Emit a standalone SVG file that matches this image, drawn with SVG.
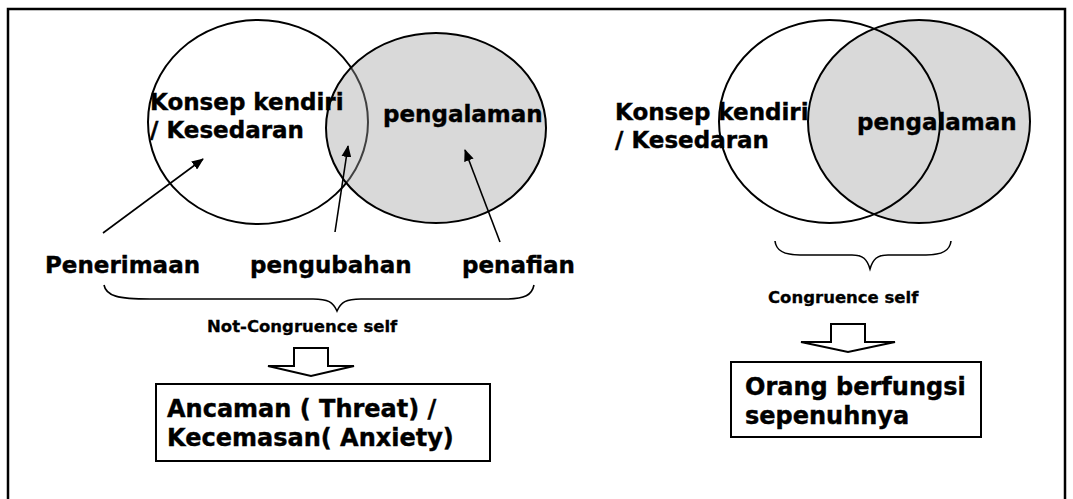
<svg xmlns="http://www.w3.org/2000/svg" width="1073" height="499" viewBox="0 0 1073 499">
<style>
.t{font-family:"DejaVu Sans","Liberation Sans",sans-serif;font-weight:bold;font-size:23px;fill:#000;stroke:#000;stroke-width:0.4}
.s{font-size:16.5px;stroke-width:0.3}
.b{font-size:24px}
.c{stroke:#000;stroke-width:2}
.ln{stroke:#000;stroke-width:1.6;fill:none}
.br{stroke:#000;stroke-width:1.6;fill:none}
.blk{fill:#fff;stroke:#000;stroke-width:2}
</style>
<defs>
<marker id="ah" viewBox="0 0 12 10" refX="11" refY="5" markerWidth="12" markerHeight="10" markerUnits="userSpaceOnUse" orient="auto">
<path d="M0,0 L12,5 L0,10 Z" fill="#000"/>
</marker>
</defs>
<rect x="8" y="9" width="1057" height="500" fill="#fff" stroke="#000" stroke-width="2.5"/>
<g id="venn-left">
<ellipse cx="258" cy="122" rx="110" ry="102" fill="#fff" class="c"/>
<ellipse cx="436" cy="128" rx="110" ry="95" fill="#a0a0a0" fill-opacity="0.4" class="c"/>
</g>
<g id="venn-right">
<ellipse cx="919" cy="121.5" rx="111" ry="101.5" fill="#d9d9d9" class="c"/>
<ellipse cx="829.5" cy="121.5" rx="110.5" ry="101.5" fill="none" class="c"/>
</g>
<g id="labels-left">
<text class="t" x="150" y="110">Konsep kendiri</text>
<text class="t" x="150" y="138">/ Kesedaran</text>
<text class="t" x="383" y="122">pengalaman</text>
</g>
<g id="labels-right">
<text class="t" x="615" y="120">Konsep kendiri</text>
<text class="t" x="615" y="148">/ Kesedaran</text>
<text class="t" x="857" y="130">pengalaman</text>
</g>
<g id="node-penerimaan"><text class="t" x="45" y="273">Penerimaan</text></g>
<g id="node-pengubahan"><text class="t" x="250" y="273">pengubahan</text></g>
<g id="node-penafian"><text class="t" x="462" y="273">penafian</text></g>
<g id="node-notcongruence"><text class="t s" x="207" y="332">Not-Congruence self</text></g>
<g id="node-congruence"><text class="t s" x="768" y="303">Congruence self</text></g>
<g id="node-threat">
<rect x="156" y="384" width="334" height="77" fill="#fff" stroke="#000" stroke-width="2"/>
<text class="t b" x="167" y="417">Ancaman ( Threat) /</text>
<text class="t b" x="167" y="446">Kecemasan( Anxiety)</text>
</g>
<g id="node-orang">
<rect x="731" y="362" width="250" height="75" fill="#fff" stroke="#000" stroke-width="2"/>
<text class="t b" x="745" y="395">Orang berfungsi</text>
<text class="t b" x="745" y="424">sepenuhnya</text>
</g>
<g id="connectors">
<line class="ln" x1="103" y1="233" x2="203" y2="159" marker-end="url(#ah)"/>
<line class="ln" x1="335" y1="232" x2="348" y2="146" marker-end="url(#ah)"/>
<line class="ln" x1="500" y1="242" x2="465" y2="150" marker-end="url(#ah)"/>
<path class="br" d="M104,285 C106,296 118,299 150,299 L313,299 C328,299 333,302 337,311 C341,302 346,299 361,299 L505,299 C525,299 532,295 534,285"/>
<path class="br" d="M775,241 C776,251 784,255 800,255 L852,255 C863,255 867,259 870,269 C873,259 877,255 888,255 L926,255 C942,255 950,251 951,241"/>
<polygon class="blk" points="294,348 328,348 328,366 354,366 311,376 268,366 294,366"/>
<polygon class="blk" points="831,324 865,324 865,342 895,342 848,352 801,342 831,342"/>
</g>
</svg>
